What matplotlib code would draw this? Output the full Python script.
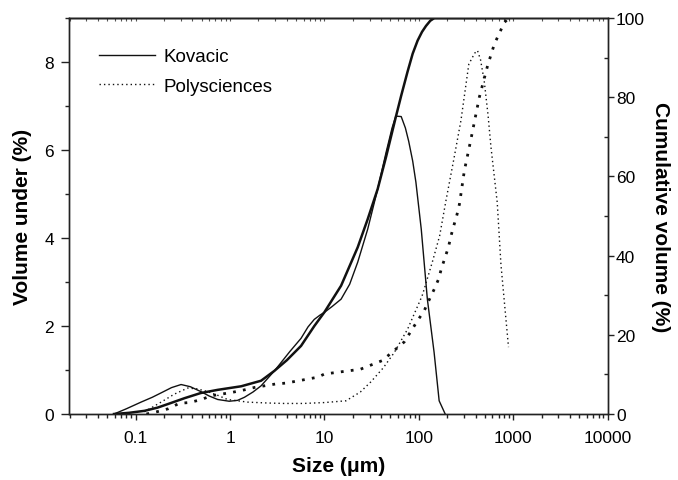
import matplotlib
matplotlib.use("Agg")
import matplotlib.pyplot as plt
from matplotlib.ticker import LogLocator, NullFormatter, FixedLocator, MultipleLocator

plt.rcParams['font.family'] = ['Liberation Sans', 'DejaVu Sans']

# Kovacic: volume frequency (%)
kov_size = [0.059, 0.08, 0.114, 0.15, 0.186, 0.24, 0.303, 0.38, 0.49, 0.6, 0.74, 0.98, 1.2, 1.42, 1.75, 2.13, 2.95,
            3.3, 4.3, 5.65, 6.7, 7.8, 9.0, 9.98, 12.0, 15.0, 18.5, 22.5, 28.7, 36.6, 45, 52, 57, 65, 72, 78, 86, 93,
            106, 123, 145, 164, 190]
kov_vol = [0.0, 0.12, 0.27, 0.38, 0.48, 0.6, 0.67, 0.62, 0.51, 0.41, 0.33, 0.29, 0.31, 0.38, 0.5, 0.64, 0.98,
           1.11, 1.42, 1.72, 1.98, 2.15, 2.25, 2.31, 2.44, 2.61, 2.95, 3.45, 4.2, 5.11, 5.95, 6.5, 6.77, 6.76, 6.5,
           6.2, 5.75, 5.27, 4.2, 2.61, 1.4, 0.3, 0.0]

# Kovacic: cumulative volume (%)
kov_cum_size = [0.059, 0.085, 0.124, 0.17, 0.219, 0.33, 0.49, 0.74, 1.31, 2.13, 2.95, 4.0, 5.65, 7.8, 9.98, 15.0,
                22.5, 28.7, 36.6, 45, 57, 65, 76, 86, 97, 108, 119, 132, 146, 160, 300, 900]
kov_cum = [0.0, 0.3, 0.8, 1.6, 2.5, 4.0, 5.3, 6.1, 7.0, 8.4, 10.9, 13.6, 17.2, 22.2, 25.7, 32.4,
           42.1, 49.2, 56.8, 65.0, 75.0, 80.4, 86.5, 91.0, 94.3, 96.5, 98.0, 99.3, 100.0, 100.0, 100.0, 100.0]

# Polysciences: volume frequency (%)
poly_size = [0.124, 0.186, 0.256, 0.356, 0.45, 0.58, 0.75, 0.94, 1.54, 2.5, 3.7, 6.0, 10, 16.9, 24, 31, 42, 55, 76,
             108, 114, 140, 166, 194, 235, 279, 338, 390, 418, 450, 492, 540, 580, 676, 740, 890]
poly_vol = [0.05, 0.27, 0.45, 0.59, 0.57, 0.51, 0.42, 0.33, 0.27, 0.25, 0.24, 0.24, 0.26, 0.3, 0.5, 0.73, 1.05, 1.4,
            1.93, 2.68, 2.84, 3.48, 4.05, 4.86, 5.8, 6.67, 7.95, 8.2, 8.26, 8.05, 7.57, 6.8, 6.07, 4.81, 3.4, 1.52]

# Polysciences: cumulative volume (%)
poly_cum_size = [0.13, 0.17, 0.22, 0.29, 0.37, 0.49, 0.63, 0.8, 1.07, 1.42, 1.81, 3.07, 3.9, 8.5, 10, 24, 41, 70,
                 97, 114, 129, 146, 162, 174, 190, 206, 219, 234, 253, 269, 303, 356, 437, 535, 630, 805, 900]
poly_cum = [0.0, 0.6, 1.3, 2.7, 2.9, 3.6, 4.6, 5.0, 5.5, 6.1, 6.7, 7.6, 7.8, 9.3, 10.1, 11.3, 13.5, 18.2,
            23.6, 26.1, 28.9, 31.6, 34.1, 36.9, 39.6, 42.2, 45.0, 47.5, 50.3, 53.0, 61.4, 69.4, 80.0, 88.0, 93.4,
            98.9, 100.0]

fig = plt.figure(figsize=(6.78, 4.81), dpi=100)
ax = fig.add_axes([0.1018, 0.1372, 0.7945, 0.8233])
ax2 = ax.twinx()

ax.plot(kov_size, kov_vol, color='#111111', lw=1.0, label='Kovacic')
ax.plot(poly_size, poly_vol, color='#111111', lw=1.0, linestyle=(0, (1, 2.2)), label='Polysciences')
ax2.plot(kov_cum_size, kov_cum, color='#111111', lw=1.8)
ax2.plot(poly_cum_size, poly_cum, color='#111111', lw=2.0, linestyle=(0, (1, 2.6)))

ax.set_xscale('log')
ax.set_xlim(0.0197, 10000)
ax.set_ylim(0, 9)
ax2.set_ylim(0, 100)

ax.xaxis.set_major_locator(FixedLocator([0.1, 1, 10, 100, 1000, 10000]))
ax.set_xticklabels(['0.1', '1', '10', '100', '1000', '10000'])
ax.xaxis.set_minor_locator(LogLocator(base=10, subs=range(2, 10)))
ax.xaxis.set_minor_formatter(NullFormatter())

ax.yaxis.set_major_locator(FixedLocator([0, 2, 4, 6, 8]))
ax.yaxis.set_minor_locator(MultipleLocator(1))
ax2.yaxis.set_major_locator(FixedLocator([0, 20, 40, 60, 80, 100]))
ax2.yaxis.set_minor_locator(MultipleLocator(10))

ax.tick_params(axis='x', which='major', direction='out', length=4.5, width=1, labelsize=12.5, pad=7, color='#222222')
ax.tick_params(axis='x', which='minor', direction='out', length=3, width=1, color='#222222')
ax.tick_params(axis='y', which='major', direction='out', length=5.8, width=1, labelsize=12.5, pad=5, color='#222222')
ax.tick_params(axis='y', which='minor', direction='out', length=3, width=1, color='#222222')
ax2.tick_params(axis='y', which='major', direction='out', length=4, width=1, labelsize=12.5, pad=2, color='#222222')
ax2.tick_params(axis='y', which='minor', direction='in', length=3, width=1, color='#222222')
for a in (ax, ax2):
    for s in a.spines.values():
        s.set_linewidth(1.0)
        s.set_color('#222222')

sec = ax.secondary_xaxis('top')
sec.xaxis.set_major_locator(FixedLocator([0.1, 1, 10, 100, 1000, 10000]))
sec.xaxis.set_minor_locator(LogLocator(base=10, subs=range(2, 10)))
sec.xaxis.set_minor_formatter(NullFormatter())
sec.tick_params(which='both', direction='in', length=2, width=0.8, labeltop=False, color='#555555')
sec.spines['top'].set_linewidth(1.0)

ax.set_xlabel('Size (\u03bcm)', fontsize=15, fontweight='bold', labelpad=8)
ax.set_ylabel('Volume under (%)', fontsize=15, fontweight='bold', labelpad=9)
ax2.set_ylabel('Cumulative volume (%)', fontsize=15, fontweight='bold', rotation=-90, labelpad=18)

leg = ax.legend(loc='upper left', frameon=False, fontsize=13.5, bbox_to_anchor=(0.0557, 0.924),
                borderaxespad=0, borderpad=0, handlelength=3.0, handletextpad=0.45, labelspacing=0.66)

fig.savefig('out.png', dpi=100)
